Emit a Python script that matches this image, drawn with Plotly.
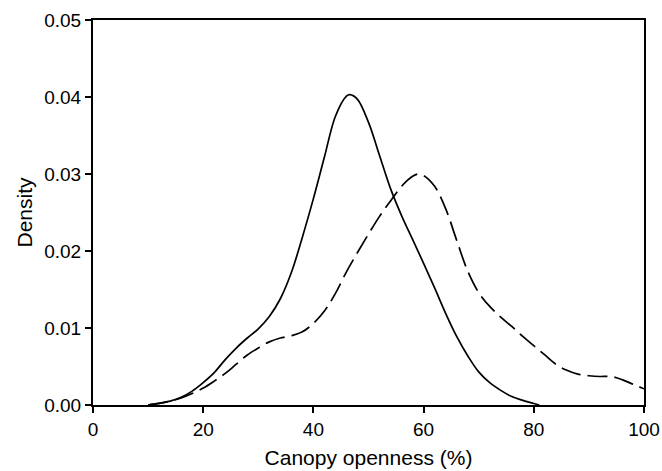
import plotly.graph_objects as go

# Solid curve
solid_x = [10, 12, 14, 16, 18, 20, 22, 24, 26, 28, 30, 32, 34, 36, 38, 40, 42, 44, 46, 46.6,
           48, 50, 52, 54, 56, 58, 60, 62, 64, 66, 68, 70, 72, 74, 76, 78, 80, 81]
solid_y = [0.0, 0.0002, 0.0005, 0.0010, 0.0018, 0.0029, 0.0042, 0.0059, 0.0074, 0.0087,
           0.0099, 0.0115, 0.0138, 0.0172, 0.0218, 0.0268, 0.0322, 0.0375, 0.0401, 0.0403,
           0.0397, 0.0367, 0.0324, 0.0281, 0.0246, 0.0215, 0.0184, 0.0152, 0.0119, 0.0089,
           0.0064, 0.0043, 0.0029, 0.0019, 0.0011, 0.0006, 0.0002, 0.0]

# Dashed curve
dashed_x = [10, 12, 14, 16, 18, 20, 22, 24, 26, 28, 30, 32, 34, 36, 38, 40, 42, 44, 46, 48,
            50, 52, 54, 56, 58, 59, 60, 62, 64, 66, 68, 70, 72, 74, 76, 78, 80, 82, 84, 86,
            88, 90, 92, 94, 96, 98, 100]
dashed_y = [0.0, 0.0002, 0.0005, 0.0009, 0.0015, 0.0022, 0.0031, 0.0041, 0.0053, 0.0065,
            0.0074, 0.0082, 0.0087, 0.0090, 0.0095, 0.0106, 0.0122, 0.0145, 0.0173, 0.0198,
            0.0222, 0.0245, 0.0265, 0.0284, 0.0297, 0.0300, 0.0298, 0.0284, 0.0255, 0.0214,
            0.0174, 0.0146, 0.0128, 0.0114, 0.0102, 0.0089, 0.0077, 0.0065, 0.0053, 0.0045,
            0.0040, 0.0038, 0.0037, 0.0037, 0.0033, 0.0027, 0.0021]

x_ticks = [0, 20, 40, 60, 80, 100]
y_ticks = [0.00, 0.01, 0.02, 0.03, 0.04, 0.05]

FONT = "Liberation Sans, Arial"

fig = go.Figure()
fig.add_trace(go.Scatter(x=solid_x, y=solid_y, mode="lines",
                         line=dict(color="black", width=1.7, shape="spline", smoothing=1.0),
                         showlegend=False))
fig.add_trace(go.Scatter(x=dashed_x, y=dashed_y, mode="lines",
                         line=dict(color="black", width=1.7, dash="20px,7px",
                                   shape="spline", smoothing=1.0),
                         showlegend=False))

axis_common = dict(showgrid=False, zeroline=False, showline=True, linecolor="black",
                   linewidth=2, mirror=True, ticks="outside", ticklen=6, tickwidth=1.5,
                   tickcolor="black", automargin=False,
                   tickfont=dict(family=FONT, size=19, color="black"))

fig.update_layout(
    width=662, height=471,
    margin=dict(l=93, r=18, t=20, b=66),
    plot_bgcolor="white", paper_bgcolor="white",
    xaxis=dict(range=[0, 100], tickvals=x_ticks, ticktext=[str(v) for v in x_ticks],
               title=dict(text="Canopy openness (%)", standoff=12,
                          font=dict(family=FONT, size=21, color="black")),
               **axis_common),
    yaxis=dict(range=[0, 0.05], tickvals=y_ticks, ticktext=[f"{v:.2f}" for v in y_ticks],
               title=dict(text="Density", standoff=6,
                          font=dict(family=FONT, size=21, color="black")),
               **axis_common),
)

fig.write_html("out.html", config={"displayModeBar": False},
               post_script="document.body.style.margin='0';document.body.style.overflow='hidden';")
